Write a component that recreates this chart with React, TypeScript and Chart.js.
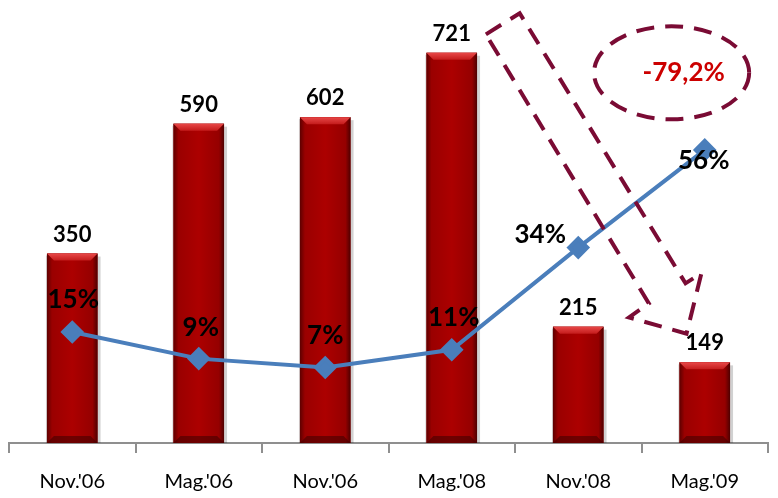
import { useEffect, useRef } from 'react';
import { Chart, registerables } from 'chart.js';

Chart.register(...registerables);

// ---- data ----
const categories = ["Nov.'06", "Mag.'06", "Nov.'06", "Mag.'08", "Nov.'08", "Mag.'09"];
const barValues = [350, 590, 602, 721, 215, 149];
const pctValues = [15, 9, 7, 11, 34, 56];
const changeLabel = '-79,2%';

// ---- annotation anchors in data space: [category index, primary-axis value] ----
const arrowOutline: [number, number][] = [
  [3.27, 755], [3.537, 794], [4.848, 295], [4.974, 314],
  [4.856, 202], [4.401, 232], [4.558, 258],
];
const ellipseCenter: [number, number] = [4.738, 684];
const ellipseRadius = { cat: 0.613, val: 86 };
const changeLabelAt: [number, number] = [4.833, 684];

// label offsets (px) for percentage labels relative to their points
const pctLabelOffsets: [number, number][] = [[1, -32], [2, -31], [0, -32], [2, -32], [-38, -13], [-1, 11]];

const FONT = 'Lato, "Open Sans", "DejaVu Sans", sans-serif';
const MAROON = '#7A0B34';
const BLUE = '#4A7EBB';

const barShade = {
  id: 'barShade',
  afterDatasetDraw(chart: any, args: any) {
    if (args.meta.type !== 'bar') return;
    const ctx = chart.ctx;
    ctx.save();
    for (const el of args.meta.data) {
      const { x, y, base, width } = el.getProps(['x', 'y', 'base', 'width'], true);
      const l = x - width / 2;
      const r = x + width / 2;
      const h = base - y;
      ctx.fillStyle = 'rgba(0,0,0,0.18)';
      ctx.fillRect(r, y + 3, 3, h - 3);
      ctx.fillRect(l - 1, y + 2, 1, h - 2);
      const g = ctx.createLinearGradient(l, 0, r, 0);
      g.addColorStop(0, '#5e0000');
      g.addColorStop(0.1, '#9a0000');
      g.addColorStop(0.5, '#ac0000');
      g.addColorStop(0.9, '#950000');
      g.addColorStop(1, '#4e0000');
      ctx.fillStyle = g;
      ctx.fillRect(l, y, width, h);
      const b = Math.min(7, h / 3);
      const tg = ctx.createLinearGradient(0, y, 0, y + b);
      tg.addColorStop(0, '#e84848');
      tg.addColorStop(1, '#c41c1c');
      ctx.fillStyle = tg;
      ctx.beginPath();
      ctx.moveTo(l, y); ctx.lineTo(r, y); ctx.lineTo(r - b, y + b); ctx.lineTo(l + b, y + b); ctx.closePath();
      ctx.fill();
      ctx.fillStyle = 'rgba(60,0,0,0.55)';
      ctx.beginPath();
      ctx.moveTo(l, base); ctx.lineTo(r, base); ctx.lineTo(r - b, base - b); ctx.lineTo(l + b, base - b); ctx.closePath();
      ctx.fill();
    }
    ctx.restore();
  },
};

const labelsAndNotes = {
  id: 'labelsAndNotes',
  afterDatasetsDraw(chart: any) {
    const ctx = chart.ctx;
    const xs = chart.scales.x;
    const ys = chart.scales.y;
    const x0 = xs.getPixelForValue(0);
    const dx = xs.getPixelForValue(1) - x0;
    const px = (i: number) => x0 + i * dx;
    const py = (v: number) => ys.getPixelForValue(v);
    ctx.save();
    ctx.textAlign = 'center';
    ctx.textBaseline = 'middle';
    ctx.fillStyle = '#000';

    const barMeta = chart.getDatasetMeta(1);
    ctx.font = `bold 22px ${FONT}`;
    barMeta.data.forEach((el: any, i: number) => {
      ctx.fillText(String(barValues[i]), el.x, el.y - 19);
    });

    const lineMeta = chart.getDatasetMeta(0);
    ctx.font = `bold 26px ${FONT}`;
    lineMeta.data.forEach((el: any, i: number) => {
      const [ox, oy] = pctLabelOffsets[i];
      ctx.fillText(pctValues[i] + '%', el.x + ox, el.y + oy);
    });

    ctx.strokeStyle = MAROON;
    ctx.lineWidth = 4;
    ctx.setLineDash([18, 11]);
    ctx.beginPath();
    arrowOutline.forEach(([i, v], k) => {
      const X = px(i), Y = py(v);
      if (k === 0) ctx.moveTo(X, Y); else ctx.lineTo(X, Y);
    });
    ctx.closePath();
    ctx.stroke();

    const cx = px(ellipseCenter[0]);
    const cy = py(ellipseCenter[1]);
    const rx = ellipseRadius.cat * dx;
    const ry = py(0) - py(ellipseRadius.val);
    ctx.beginPath();
    ctx.ellipse(cx, cy, rx, ry, 0, 0, Math.PI * 2);
    ctx.stroke();
    ctx.setLineDash([]);

    ctx.fillStyle = '#CC0000';
    ctx.font = `bold 26px ${FONT}`;
    ctx.fillText(changeLabel, px(changeLabelAt[0]), py(changeLabelAt[1]));
    ctx.restore();
  },
};

export default function App() {
  const ref = useRef<HTMLCanvasElement | null>(null);
  useEffect(() => {
    document.body.style.margin = '0';
    const chart = new Chart(ref.current as HTMLCanvasElement, {
      type: 'bar',
      data: {
        labels: categories,
        datasets: [
          {
            type: 'line',
            data: pctValues,
            yAxisID: 'y2',
            order: 0,
            borderColor: BLUE,
            backgroundColor: BLUE,
            borderWidth: 4,
            pointStyle: 'rectRot',
            pointRadius: 9,
            pointBackgroundColor: BLUE,
            pointBorderColor: BLUE,
            tension: 0,
          } as any,
          {
            type: 'bar',
            data: barValues,
            yAxisID: 'y',
            order: 1,
            backgroundColor: '#a80000',
            barPercentage: 0.4,
            categoryPercentage: 1,
          },
        ],
      },
      options: {
        animation: false,
        responsive: false,
        layout: { autoPadding: false, padding: { left: 9, right: 10, top: 10, bottom: 5 } },
        plugins: { legend: { display: false }, tooltip: { enabled: false } },
        scales: {
          x: {
            offset: true,
            grid: { offset: true, drawOnChartArea: false, drawTicks: true, tickLength: 10, color: '#8f8f8f', lineWidth: 2 },
            border: { display: true, color: '#8f8f8f', width: 2 },
            ticks: { color: '#000', font: { family: FONT, size: 20 }, padding: 17 },
          },
          y: { display: false, min: 0, max: 800 },
          y2: { display: false, min: -10, max: 87.5 },
        },
      },
      plugins: [barShade, labelsAndNotes],
    });
    return () => chart.destroy();
  }, []);
  return (
    <div style={{ width: 778, height: 498, background: '#fff', overflow: 'hidden' }}>
      <canvas ref={ref} width={778} height={516} />
    </div>
  );
}
